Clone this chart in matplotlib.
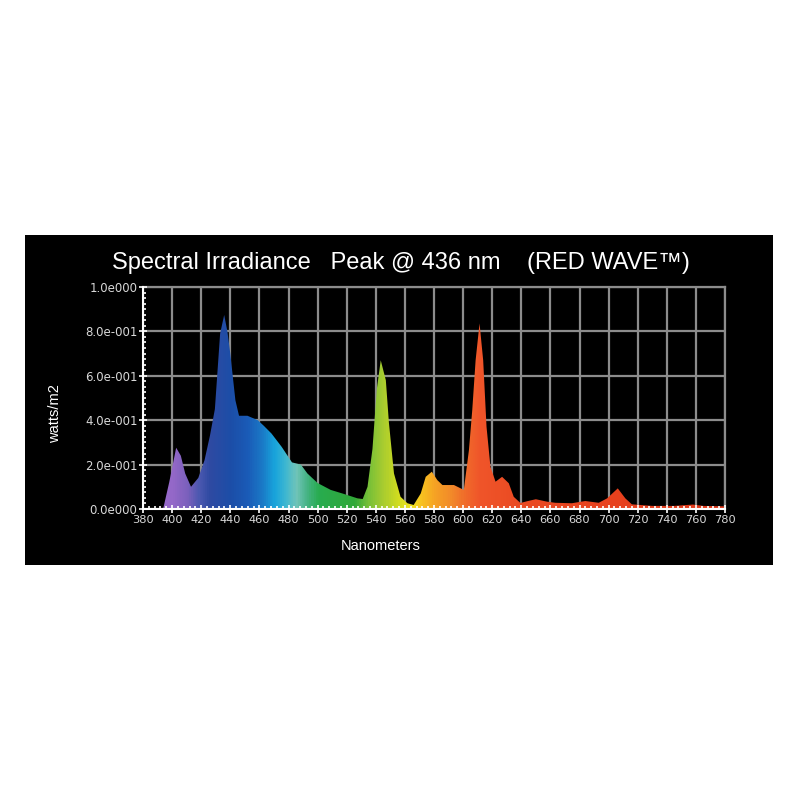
import matplotlib
matplotlib.use("Agg")
import matplotlib.pyplot as plt
import numpy as np
from matplotlib.colors import LinearSegmentedColormap, to_rgb
from matplotlib.patches import Rectangle
from matplotlib.ticker import MultipleLocator, FixedLocator, FixedFormatter

# ---------------- data ----------------
wavelength_nm = [380, 390, 394, 398, 402.8, 406, 409, 413, 418, 422.3, 426, 429.4, 433,
                 435.8, 438, 440, 443.5, 446, 451.8, 458.9, 463, 468.3, 475.3, 482.4,
                 488.5, 493, 500, 509, 518, 527.4, 531, 534.3, 537.7, 540.7, 543.4,
                 546.9, 549, 552.5, 557, 561.7, 566, 570.9, 574.3, 578.5, 582.3, 585.8,
                 593.7, 600.5, 604, 606.3, 608.6, 611.3, 613.8, 616.1, 618.8, 622.3,
                 626.8, 631.4, 634.8, 639.4, 644, 650, 657.7, 663.4, 674.8, 684, 693.2,
                 699, 706.3, 711.5, 716, 730, 745, 758, 765, 780]
irradiance = [0.0, 0.0, 0.005, 0.12, 0.276, 0.24, 0.16, 0.10, 0.14, 0.22, 0.33, 0.45, 0.79,
              0.874, 0.80, 0.70, 0.49, 0.42, 0.42, 0.40, 0.375, 0.34, 0.28, 0.21,
              0.20, 0.16, 0.117, 0.086, 0.068, 0.048, 0.045, 0.10, 0.27, 0.54, 0.67,
              0.58, 0.39, 0.16, 0.055, 0.026, 0.018, 0.07, 0.145, 0.168, 0.13, 0.108,
              0.108, 0.086, 0.265, 0.446, 0.67, 0.836, 0.67, 0.37, 0.19, 0.123,
              0.145, 0.116, 0.055, 0.027, 0.035, 0.044, 0.033, 0.028, 0.026, 0.036, 0.028,
              0.048, 0.093, 0.048, 0.021, 0.014, 0.014, 0.02, 0.014, 0.012]

x_ticks = list(range(380, 781, 20))
x_tick_labels = [str(v) for v in x_ticks]
y_ticks = [0.0, 0.2, 0.4, 0.6, 0.8, 1.0]
y_tick_labels = ["0.0e000", "2.0e-001", "4.0e-001", "6.0e-001", "8.0e-001", "1.0e000"]

title_text = "Spectral Irradiance   Peak @ 436 nm    (RED WAVE\u2122)"
x_label = "Nanometers"
y_label = "watts/m2"

# spectrum colour stops (wavelength, colour) - style
color_stops = [(380, "#9a6cd0"), (400, "#9468c8"), (410, "#7a60bc"), (418, "#4a58b0"),
               (425, "#2f4aa2"), (440, "#1c4ea8"), (452, "#1a5cb8"), (462, "#1a7cc8"),
               (470, "#18a4dc"), (478, "#40b8d0"), (485, "#70c4b8"), (492, "#48b488"),
               (500, "#28ac50"), (525, "#30a838"), (535, "#78c038"), (545, "#a8cc30"),
               (555, "#d0dc20"), (565, "#f0e020"), (572, "#f8c020"), (580, "#f6a424"),
               (592, "#f28a2a"), (602, "#f06a2a"), (612, "#f0552a"), (640, "#ea4a22"),
               (700, "#e8421e"), (780, "#e03a1c")]

# ---------------- figure ----------------
fig = plt.figure(figsize=(8, 8), dpi=100)
fig.patch.set_facecolor("white")
bg = Rectangle((25 / 800, 1 - 565 / 800), (773 - 25) / 800, (565 - 235) / 800,
               transform=fig.transFigure, facecolor="black", edgecolor="none", zorder=-10)
fig.add_artist(bg)

ax = fig.add_axes([143 / 800, 1 - 509 / 800, (725 - 143) / 800, (509 - 287) / 800])
ax.set_zorder(1)
ax.set_facecolor("black")
ax.set_xlim(380, 780)
ax.set_ylim(0, 1.0)
ax.set_axisbelow(False)

# grid (drawn below the spectrum, ticks stay above it)
grid_color = "#8c8c8c"
for xv in x_ticks:
    ax.axvline(xv, color=grid_color, linewidth=1.6, zorder=1)
for yv in y_ticks:
    ax.axhline(yv, color=grid_color, linewidth=1.6, zorder=1)

# gradient fill clipped to spectrum
lo, hi = color_stops[0][0], color_stops[-1][0]
cmap = LinearSegmentedColormap.from_list(
    "spec", [((w - lo) / (hi - lo), to_rgb(c)) for w, c in color_stops])
grad = np.linspace(0, 1, 800).reshape(1, -1)
poly = ax.fill_between(wavelength_nm, irradiance, 0, facecolor="none", edgecolor="none")
img = ax.imshow(grad, cmap=cmap, aspect="auto", extent=[lo, hi, 0, 1.0],
                origin="lower", zorder=2, interpolation="bilinear")
clip_path = poly.get_paths()[0]
img.set_clip_path(clip_path, transform=ax.transData)
ax.set_xlim(380, 780)
ax.set_ylim(0, 1.0)

for s in ["top", "right"]:
    ax.spines[s].set_color(grid_color)
    ax.spines[s].set_linewidth(1.6)
for s in ["left", "bottom"]:
    ax.spines[s].set_color("white")
    ax.spines[s].set_linewidth(1.5)
    ax.spines[s].set_zorder(3)

ax.xaxis.set_major_locator(FixedLocator(x_ticks))
ax.xaxis.set_major_formatter(FixedFormatter(x_tick_labels))
ax.yaxis.set_major_locator(FixedLocator(y_ticks))
ax.yaxis.set_major_formatter(FixedFormatter(y_tick_labels))
ax.xaxis.set_minor_locator(MultipleLocator(4))
ax.yaxis.set_minor_locator(MultipleLocator(0.025))

tick_font = "DejaVu Sans"
ax.tick_params(axis="both", which="major", direction="inout", length=6, width=1.2,
               colors="white", labelcolor="#d8d8d8", pad=1)
ax.tick_params(axis="x", which="major", labelsize=8.2)
ax.tick_params(axis="y", which="major", labelsize=8.5)
ax.tick_params(axis="both", which="minor", direction="in", length=2.5, width=1.2,
               colors="white")
for lab in ax.get_xticklabels() + ax.get_yticklabels():
    lab.set_family(tick_font)

ax.set_xlabel(x_label, color="white", fontsize=10.5, family="Liberation Sans")
ax.set_ylabel(y_label, color="white", fontsize=10.5, family="Liberation Sans")
ax.xaxis.set_label_coords((381 - 143) / 582, -0.135)
ax.yaxis.set_label_coords(-0.14, 0.43)

fig.text(401 / 800, 1 - 263 / 800, title_text, color="white", fontsize=17,
         family="Liberation Sans", ha="center", va="center")

fig.savefig("out.png", dpi=100, facecolor="white")
